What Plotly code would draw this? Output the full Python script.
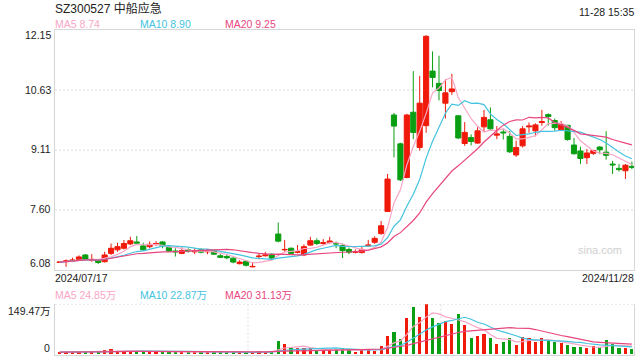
import numpy as np
import pandas as pd
import plotly.graph_objects as go

# ---------------- data ----------------
title_text = "SZ300527 中船应急"
stamp_text = "11-28 15:35"
first_date = "2024/07/17"
last_date = "2024/11/28"

price_ticks = [12.15, 10.63, 9.11, 7.60, 6.08]
price_tick_labels = ["12.15", "10.63", "9.11", "7.60", "6.08"]
vol_max = 149.47
vol_tick_labels = ["149.47万", "0"]

ma_price_labels = ["MA5 8.74", "MA10 8.90", "MA20 9.25"]
ma_vol_labels = ["MA5 24.85万", "MA10 22.87万", "MA20 31.13万"]

open_ = [6.27, 6.29, 6.31, 6.35, 6.46, 6.32, 6.33, 6.29, 6.50, 6.59,
         6.63, 6.74, 6.79, 6.69, 6.67, 6.74, 6.79, 6.65, 6.56, 6.50,
         6.59, 6.54, 6.59, 6.54, 6.57, 6.44, 6.42, 6.38, 6.24, 6.30,
         6.16, 6.42, 6.44, 6.48, 6.99, 6.59, 6.63, 6.53, 6.46, 6.71,
         6.82, 6.75, 6.78, 6.75, 6.70, 6.60, 6.53, 6.52, 6.69, 6.78,
         7.00, 7.56, 10.00, 9.27, 8.42, 10.07, 9.18, 9.73, 11.11, 10.80,
         10.30, 10.59, 9.98, 9.28, 9.43, 9.29, 9.70, 9.88, 9.49, 9.57,
         9.46, 8.99, 9.22, 9.70, 9.60, 9.81, 10.01, 9.86, 9.63, 9.74,
         9.24, 9.09, 8.92, 9.03, 9.19, 9.06, 8.76, 8.65, 8.59, 8.70]
high = [6.29, 6.35, 6.39, 6.45, 6.48, 6.48, 6.36, 6.54, 6.75, 6.77,
        6.84, 6.92, 6.94, 6.77, 6.80, 6.81, 6.81, 6.69, 6.63, 6.65,
        6.63, 6.63, 6.63, 6.61, 6.60, 6.48, 6.48, 6.40, 6.33, 6.32,
        6.28, 6.50, 6.54, 6.50, 7.28, 6.84, 6.65, 6.71, 6.73, 6.92,
        6.88, 6.86, 6.92, 6.80, 6.75, 6.65, 6.60, 6.67, 6.84, 6.93,
        7.32, 8.51, 10.05, 9.30, 10.03, 11.11, 10.99, 12.02, 11.61, 11.50,
        10.90, 11.04, 10.00, 9.82, 9.51, 9.69, 10.13, 10.19, 9.72, 9.64,
        9.60, 9.35, 9.72, 9.81, 9.79, 10.13, 10.04, 9.91, 9.85, 9.75,
        9.42, 9.20, 9.14, 9.12, 9.21, 9.59, 8.84, 8.76, 8.76, 8.82]
low = [6.26, 6.16, 6.28, 6.33, 6.33, 6.29, 6.23, 6.27, 6.46, 6.54,
       6.60, 6.71, 6.74, 6.57, 6.63, 6.69, 6.63, 6.54, 6.42, 6.48,
       6.52, 6.48, 6.50, 6.48, 6.46, 6.38, 6.35, 6.25, 6.22, 6.17,
       6.15, 6.35, 6.42, 6.35, 6.78, 6.54, 6.48, 6.50, 6.43, 6.69,
       6.71, 6.71, 6.75, 6.63, 6.38, 6.48, 6.50, 6.50, 6.67, 6.74,
       6.97, 7.56, 8.93, 8.33, 8.40, 9.39, 9.10, 9.55, 10.70, 10.37,
       9.91, 10.51, 9.39, 9.22, 9.23, 9.27, 9.57, 9.60, 9.39, 9.38,
       9.04, 8.94, 9.18, 9.55, 9.46, 9.73, 9.73, 9.60, 9.60, 9.35,
       9.00, 8.76, 8.76, 8.99, 9.01, 8.87, 8.51, 8.57, 8.38, 8.63]
close = [6.28, 6.31, 6.33, 6.41, 6.35, 6.35, 6.27, 6.46, 6.63, 6.67,
         6.75, 6.82, 6.76, 6.59, 6.73, 6.75, 6.69, 6.56, 6.54, 6.57,
         6.56, 6.57, 6.53, 6.56, 6.48, 6.40, 6.39, 6.28, 6.28, 6.20,
         6.17, 6.43, 6.46, 6.38, 6.81, 6.60, 6.50, 6.54, 6.67, 6.82,
         6.75, 6.77, 6.81, 6.74, 6.57, 6.53, 6.54, 6.60, 6.71, 6.88,
         7.20, 8.38, 9.72, 8.36, 10.00, 9.56, 10.30, 11.99, 10.95, 10.62,
         10.56, 10.66, 9.42, 9.56, 9.33, 9.60, 9.94, 9.65, 9.52, 9.55,
         9.07, 9.18, 9.65, 9.72, 9.75, 9.83, 9.96, 9.68, 9.76, 9.38,
         9.02, 8.90, 9.04, 9.10, 9.12, 8.98, 8.74, 8.62, 8.73, 8.68]
# volume in 万手
volume = [7, 8, 8, 8, 8, 8, 7, 13, 15, 10,
          10, 11, 10, 10, 10, 10, 8, 8, 8, 8,
          8, 7, 7, 7, 7, 6, 6, 7, 6, 6,
          6, 11, 8, 8, 40, 30, 19, 18, 18, 17,
          13, 10, 15, 15, 18, 15, 7, 15, 15, 11,
          25, 55, 67, 45, 108, 142, 112, 149.47, 108, 93,
          98, 91, 120, 87, 48, 54, 60, 48, 30, 36,
          48, 27, 51, 48, 36, 48, 39, 36, 33, 27,
          22, 21, 18, 24, 20, 42, 31, 18, 18, 15]

# ---------------- styles ----------------
W, H = 640, 360
RED = "#f01a0a"
GREEN = "#0a9e12"
MA_COLORS = ["#f7a6c6", "#45c3df", "#e8467f"]
BORDER = "#d6d6d6"
GRID = "#dddddd"
TEXT = "#222222"
FONT = "Liberation Sans, Arial, Noto Sans CJK SC, sans-serif"

L, R = 55, 634
MAIN_T, MAIN_B = 30, 270
VOL_T, VOL_B = 304.3, 354.5


def px(x):
    return x / W


def py(y):
    return 1 - y / H


idx = np.arange(len(close))
xr = [-0.72, 89.33]

s_close = pd.Series(close)
s_vol = pd.Series(volume)
periods = [5, 10, 20]

fig = go.Figure()
fig.add_trace(go.Candlestick(
    x=idx, open=open_, high=high, low=low, close=close,
    increasing=dict(line=dict(color=RED, width=1), fillcolor=RED),
    decreasing=dict(line=dict(color=GREEN, width=1), fillcolor=GREEN),
    whiskerwidth=0, xaxis="x", yaxis="y", hoverinfo="skip"))

for p, c in zip(periods, MA_COLORS):
    fig.add_trace(go.Scatter(x=idx, y=s_close.rolling(p, min_periods=1).mean(),
                             mode="lines", line=dict(color=c, width=1.2),
                             xaxis="x", yaxis="y", hoverinfo="skip"))

bar_colors = [RED if c >= o else GREEN for o, c in zip(open_, close)]
fig.add_trace(go.Bar(x=idx, y=volume, marker=dict(color=bar_colors, line=dict(width=0)),
                     width=0.5, xaxis="x2", yaxis="y2", hoverinfo="skip"))
for p, c in zip(periods, MA_COLORS):
    fig.add_trace(go.Scatter(x=idx, y=s_vol.rolling(p, min_periods=1).mean(),
                             mode="lines", line=dict(color=c, width=1.2),
                             xaxis="x2", yaxis="y2", hoverinfo="skip"))

shapes = []
for v in price_ticks[1:-1]:
    shapes.append(dict(type="line", xref="x domain", yref="y", x0=0, x1=1, y0=v, y1=v,
                       line=dict(color=GRID, width=1, dash="2px,2px"), layer="below"))
shapes.append(dict(type="line", xref="x2 domain", yref="y2", x0=0, x1=1, y0=vol_max, y1=vol_max,
                   line=dict(color=GRID, width=1, dash="2px,2px"), layer="below"))
for frac in (1 / 3, 2 / 3):
    shapes.append(dict(type="line", xref="x2 domain", yref="y2 domain", x0=frac, x1=frac, y0=0, y1=1,
                       line=dict(color=GRID, width=1, dash="2px,2px"), layer="below"))

ann = []


def text(t, x, y, anchor="left", size=10.5, color=TEXT):
    ann.append(dict(text=t, x=px(x), y=py(y), xref="paper", yref="paper", xanchor=anchor,
                    yanchor="middle", showarrow=False, font=dict(size=size, color=color, family=FONT),
                    borderpad=0))


text(title_text, 54, 8, size=12)
text(stamp_text, 635, 12, anchor="right")
for lab, x, c in zip(ma_price_labels, [54, 139, 224], MA_COLORS):
    text(lab, x, 24, color=c)
for lab, x, c in zip(ma_vol_labels, [54, 139, 224], MA_COLORS):
    text(lab, x, 295, color=c)
for lab, y in zip(price_tick_labels, [35.3, 89.7, 149.2, 209.3, 263.3]):
    text(lab, 52, y, anchor="right")
text(vol_tick_labels[0], 52, 311, anchor="right")
text(vol_tick_labels[1], 51, 348, anchor="right")
text(first_date, 54, 278)
text(last_date, 635, 278, anchor="right")
text("sina.com", 623, 249.5, anchor="right", size=11, color="#cfcfcf")

axis_common = dict(showgrid=False, zeroline=False, showticklabels=False, ticks="",
                   showline=True, linecolor=BORDER, linewidth=1, fixedrange=True)

fig.update_layout(
    width=W, height=H, margin=dict(l=0, r=0, t=0, b=0),
    paper_bgcolor="white", plot_bgcolor="white", showlegend=False,
    boxgap=0.2, boxgroupgap=0, bargap=0,
    xaxis=dict(domain=[px(L), px(R)], range=xr, mirror=True,
               rangeslider=dict(visible=False), anchor="y", **axis_common),
    yaxis=dict(domain=[py(MAIN_B), py(MAIN_T)], range=[6.08, 12.15], mirror=True,
               anchor="x", **axis_common),
    xaxis2=dict(domain=[px(L), px(R)], range=xr, anchor="y2", **axis_common),
    yaxis2=dict(domain=[py(VOL_B), py(VOL_T)], range=[0, vol_max], mirror=True,
                anchor="x2", **axis_common),
    shapes=shapes, annotations=ann,
)

fig.write_html("out.html")
